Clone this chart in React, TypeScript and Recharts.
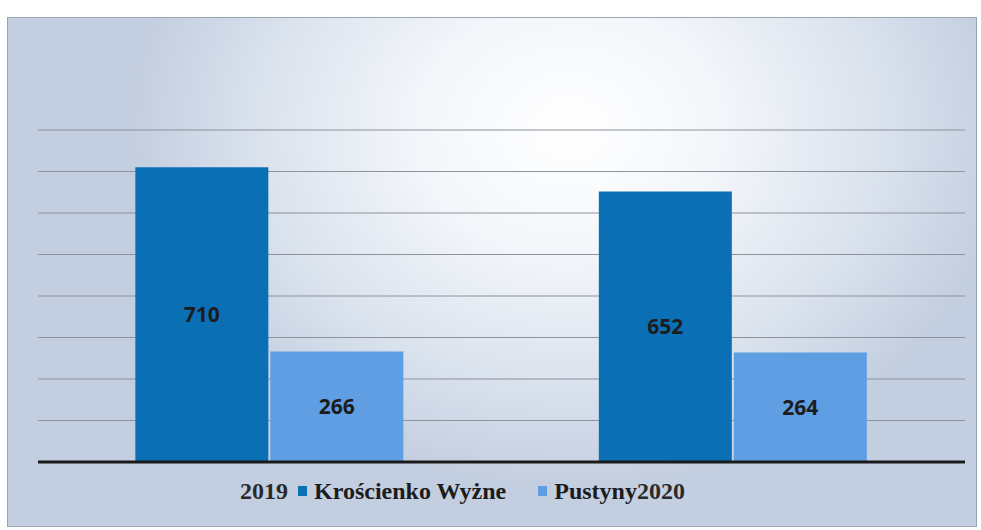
import React from 'react';
import { BarChart, Bar, CartesianGrid, XAxis, YAxis, Legend, LabelList, ReferenceLine } from 'recharts';

const years = ['2019', '2020'];
const seriesNames = ['Krościenko Wyżne', 'Pustyny'];
const kroscienko = [710, 652];
const pustyny = [266, 264];
const yTicks = [0, 100, 200, 300, 400, 500, 600, 700, 800];

const DARK = '#0b6fb6';
const LIGHT = '#5f9ee2';

const rows = years.map((y, i) => ({ year: y, a: kroscienko[i], b: pustyny[i] }));

function LegendBox() {
  const serif = '"Liberation Serif", "DejaVu Serif", serif';
  const square = (c: string) => (
    <span style={{ display: 'inline-block', width: 9, height: 10, background: c, margin: '0 7px 0 10px' }} />
  );
  return (
    <div
      style={{
        display: 'flex',
        alignItems: 'center',
        justifyContent: 'flex-start',
        paddingLeft: 240,
        height: 30,
        fontFamily: serif,
        fontWeight: 700,
        fontSize: 24,
        color: '#1c1c1c',
        whiteSpace: 'pre',
      }}
    >
      <span style={{ color: '#2a2a2a' }}>{years[0]}</span>
      {square(DARK)}
      <span>{seriesNames[0]}</span>
      <span style={{ width: 22 }} />
      {square(LIGHT)}
      <span>{seriesNames[1]}</span>
      <span style={{ color: '#2a2a2a' }}>{years[1]}</span>
    </div>
  );
}

export default function App() {
  return (
    <div style={{ position: 'absolute', left: 0, top: 0, width: 981, height: 530, background: '#ffffff', overflow: 'hidden' }}>
      <div
        style={{
          position: 'absolute',
          left: 7,
          top: 17,
          width: 968,
          height: 508,
          border: '1px solid #9aa3b0',
          background:
            'radial-gradient(ellipse 45% 70% at 58% 22%, #ffffff 0%, #f3f6fa 35%, #dbe3ee 70%, #c3cee0 100%)',
        }}
      />
      <div style={{ position: 'absolute', left: 0, top: 0 }}>
        <BarChart
          width={981}
          height={530}
          data={rows}
          margin={{ top: 130, right: 16, left: 38, bottom: 38 }}
          barCategoryGap="21%"
          barGap={2}
        >
          <CartesianGrid horizontal vertical={false} stroke="#8d929b" strokeWidth={1.2} />
          <XAxis dataKey="year" hide />
          <YAxis hide domain={[0, 800]} ticks={yTicks} />
          <Legend
            verticalAlign="bottom"
            height={30}
            content={<LegendBox />}
            wrapperStyle={{ left: 0, top: 476, width: 981, height: 30 }}
          />
          <Bar dataKey="a" name={seriesNames[0]} fill={DARK} isAnimationActive={false}>
            <LabelList
              dataKey="a"
              position="center"
              fill="#1c1c1c"
              style={{ fontFamily: '"Open Sans", sans-serif', fontWeight: 700, fontSize: 21 }}
            />
          </Bar>
          <Bar dataKey="b" name={seriesNames[1]} fill={LIGHT} isAnimationActive={false}>
            <LabelList
              dataKey="b"
              position="center"
              fill="#1c1c1c"
              style={{ fontFamily: '"Open Sans", sans-serif', fontWeight: 700, fontSize: 21 }}
            />
          </Bar>
          <ReferenceLine y={0} stroke="#1a1a1a" strokeWidth={3} />
        </BarChart>
      </div>
    </div>
  );
}
